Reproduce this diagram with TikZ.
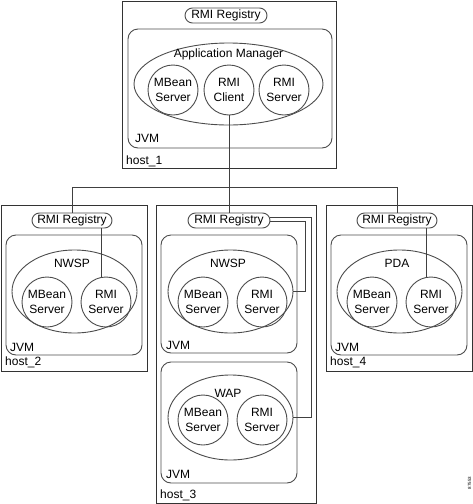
\documentclass[tikz,border=0pt]{standalone}
\usepackage{fontspec}
\setmainfont{Liberation Sans}
\usetikzlibrary{shapes.geometric}
\begin{document}
\begin{tikzpicture}[x=1pt,y=-1pt,
  every node/.style={font=\fontsize{12}{14.5}\selectfont},
  hostbox/.style={draw=black!80, line width=1pt, inner sep=0},
  jvmbox/.style={draw=black!70, line width=0.9pt, rounded corners=10pt, inner sep=0},
  regbox/.style={draw=black!70, line width=0.9pt, rounded corners=7.5pt, minimum height=15pt, minimum width=82pt, inner sep=0},
  procell/.style={draw=black!70, line width=0.9pt, ellipse, inner sep=0},
  comp/.style={draw=black!70, line width=0.9pt, circle, minimum size=50pt, inner sep=0, align=center},
  lbl/.style={anchor=west, inner sep=0},
  conn/.style={draw=black!75, line width=0.9pt}
]
\useasboundingbox (0,0) rectangle (473,504);

% host_1
\node[hostbox, minimum width=214pt, minimum height=167pt] (h1) at (229,84.5) {};
\node[regbox] (reg1) at (226,15.5) {RMI Registry};
\node[jvmbox, minimum width=204pt, minimum height=119pt] (j1) at (230,88.5) {};
\node[procell, minimum width=189pt, minimum height=82pt] (am) at (228.5,84) {};
\node (amt) at (228.5,54.5) {Application Manager};
\node[comp] (mb1) at (173,90) {MBean\\Server};
\node[comp] (rc1) at (229,90) {RMI\\Client};
\node[comp] (rs1) at (284,90) {RMI\\Server};
\node[lbl] (jl1) at (135,138) {JVM};
\node[lbl] (hl1) at (126,161) {host\_1};

% host_2
\node[hostbox, minimum width=146pt, minimum height=166pt] (h2) at (74,288) {};
\node[regbox, minimum width=80pt] (reg2) at (72,220.5) {RMI Registry};
\node[jvmbox, minimum width=136pt, minimum height=120pt] (j2) at (74,295) {};
\node[procell, minimum width=125pt, minimum height=83pt] (nw2) at (74.5,291.5) {};
\node (nw2t) at (72,263.5) {NWSP};
\node[comp] (mb2) at (47,302) {MBean\\Server};
\node[comp] (rs2) at (106,302) {RMI\\Server};
\node[lbl] (jl2) at (10,347) {JVM};
\node[lbl] (hl2) at (5,362) {host\_2};

% host_3
\node[hostbox, minimum width=160pt, minimum height=298pt] (h3) at (236,354) {};
\node[regbox] (reg3) at (229,220.5) {RMI Registry};
\node[jvmbox, minimum width=136pt, minimum height=118pt] (j3a) at (229,294) {};
\node[procell, minimum width=125pt, minimum height=83pt] (nw3) at (230.5,291.5) {};
\node (nw3t) at (228,263.5) {NWSP};
\node[comp] (mb3) at (203,302) {MBean\\Server};
\node[comp] (rs3) at (262,302) {RMI\\Server};
\node[lbl] (jl3a) at (166,345) {JVM};
\node[jvmbox, minimum width=136pt, minimum height=121pt] (j3b) at (229,422.5) {};
\node[procell, minimum width=125pt, minimum height=85pt] (wap) at (230.5,417.5) {};
\node (wapt) at (228,393.5) {WAP};
\node[comp] (mb3b) at (203,420) {MBean\\Server};
\node[comp] (rs3b) at (262,420) {RMI\\Server};
\node[lbl] (jl3b) at (166,474) {JVM};
\node[lbl] (hl3) at (160,495) {host\_3};

% host_4
\node[hostbox, minimum width=146pt, minimum height=166pt] (h4) at (399,288) {};
\node[regbox, minimum width=80pt] (reg4) at (397,220.5) {RMI Registry};
\node[jvmbox, minimum width=136pt, minimum height=120pt] (j4) at (399,295) {};
\node[procell, minimum width=125pt, minimum height=83pt] (pda) at (399.5,291.5) {};
\node (pdat) at (397,263.5) {PDA};
\node[comp] (mb4) at (372,302) {MBean\\Server};
\node[comp] (rs4) at (431,302) {RMI\\Server};
\node[lbl] (jl4) at (335,347) {JVM};
\node[lbl] (hl4) at (330,362) {host\_4};

% figure number
\node[rotate=90, font=\fontsize{4.5}{5}\selectfont, inner sep=0] (fig) at (469.5,483) {87553};

% connectors
\coordinate (busL) at (72,187);
\coordinate (busR) at (397,187);
\draw[conn] (rc1.south) -- (reg3.north);
\draw[conn] (reg2.north) -- (busL) -- (busR) -- (reg4.north);
\draw[conn] (rs2.100) -- (rs2.100 |- reg2.south);
\draw[conn] (rs4.100) -- (rs4.100 |- reg4.south);
\draw[conn] ([yshift=3.5pt]reg3.east) -- ++(41,0) |- (wap.east);
\draw[conn] ([yshift=-0.5pt]reg3.east) -- ++(35,0) |- (nw3.east);
\end{tikzpicture}
\end{document}
